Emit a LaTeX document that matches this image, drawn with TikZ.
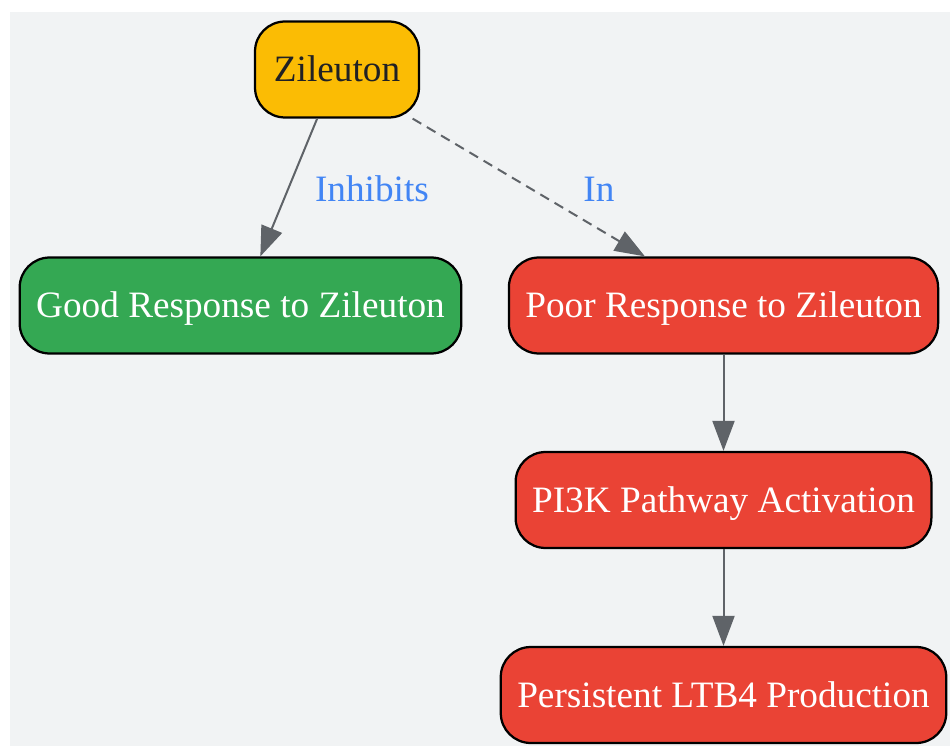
\documentclass[tikz,border=0pt]{standalone}
\usepackage{fontspec}
\setmainfont{Liberation Serif}
\usetikzlibrary{arrows.meta}
\definecolor{bggray}{HTML}{F1F3F4}
\definecolor{zilyellow}{HTML}{FBBC04}
\definecolor{goodgreen}{HTML}{34A853}
\definecolor{poorred}{HTML}{EA4335}
\definecolor{edgegray}{HTML}{5F6368}
\definecolor{lblblue}{HTML}{4285F4}
\definecolor{darktext}{HTML}{202124}
\tikzset{
  box/.style={draw=black, line width=0.045cm, rounded corners=0.6cm,
    minimum height=1.92cm, inner xsep=0.33cm, text=white,
    text height=0.6cm, text depth=0.1cm,
    font=\fontsize{21.2}{25}\selectfont},
  edge/.style={draw=edgegray, line width=0.04cm,
    -{Triangle[length=0.6cm,width=0.44cm]}},
  lbl/.style={text=lblblue, font=\fontsize{21.2}{25}\selectfont}
}
\begin{document}
\begin{tikzpicture}[x=0.02cm,y=-0.02cm]
                % frame
                \useasboundingbox (0,0) rectangle (950,746);
                \fill[bggray] (10,12) rectangle (950,746);
                % nodes
                \node[box, fill=zilyellow, text=darktext, minimum width=3.28cm] (zil) at (337,69.5) {Zileuton};
                \node[box, fill=goodgreen] (good) at (240.5,305.5) {Good Response to Zileuton};
                \node[box, fill=poorred] (poor) at (723.5,305.5) {Poor Response to Zileuton};
                \node[box, fill=poorred] (pik) at (723.5,500) {PI3K Pathway Activation};
                \node[box, fill=poorred] (ltb) at (723.5,695) {Persistent LTB4 Production};
                % labels
                \node[lbl] (inh) at (372,189) {Inhibits};
                \node[lbl] (in) at (599,189) {In};
                % edges
                \draw[edge] (zil.-112) -- (good.68);
                \draw[edge, dash pattern=on 0.2cm off 0.13cm] (zil.-33) -- (poor.148);
                \draw[edge] (poor) -- (pik);
                \draw[edge] (pik) -- (ltb);
\end{tikzpicture}
\end{document}
